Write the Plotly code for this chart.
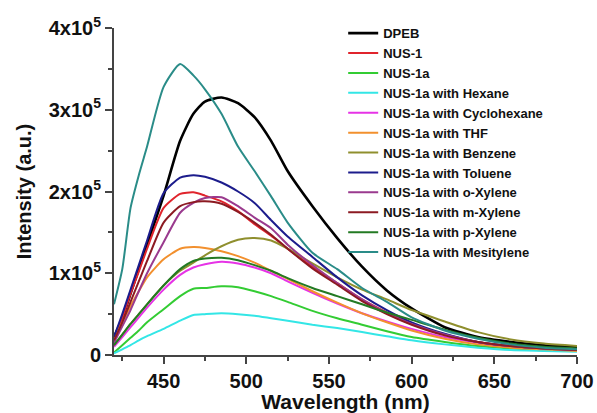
import plotly.graph_objects as go

wavelength = [420, 425, 430, 435, 440, 450, 460, 468, 475, 485, 495, 505, 515, 525,
              540, 555, 570, 585, 600, 620, 640, 660, 680, 700]

# intensities in units of 1e5 (a.u.)
dpeb = [0.22, 0.45, 0.75, 1.05, 1.35, 1.95, 2.62, 2.95, 3.10, 3.15, 3.08, 2.91, 2.62, 2.25,
        1.82, 1.43, 1.08, 0.79, 0.57, 0.34, 0.22, 0.16, 0.12, 0.10]
nus1 = [0.20, 0.45, 0.75, 1.02, 1.30, 1.80, 1.97, 1.99, 1.95, 1.88, 1.76, 1.60, 1.46, 1.30,
        1.08, 0.88, 0.68, 0.52, 0.38, 0.25, 0.16, 0.11, 0.08, 0.06]
nus1a = [0.03, 0.12, 0.21, 0.30, 0.40, 0.56, 0.72, 0.81, 0.82, 0.84, 0.83, 0.78, 0.72, 0.65,
         0.54, 0.45, 0.37, 0.29, 0.22, 0.16, 0.11, 0.08, 0.06, 0.05]
hexane = [0.02, 0.07, 0.12, 0.18, 0.23, 0.32, 0.42, 0.49, 0.50, 0.51, 0.50, 0.48, 0.45, 0.42,
          0.37, 0.33, 0.28, 0.23, 0.18, 0.13, 0.09, 0.06, 0.05, 0.04]
cyclohexane = [0.10, 0.22, 0.34, 0.46, 0.58, 0.80, 0.98, 1.07, 1.11, 1.14, 1.12, 1.07, 1.00, 0.90,
               0.76, 0.63, 0.51, 0.41, 0.32, 0.22, 0.15, 0.10, 0.08, 0.06]
thf = [0.20, 0.40, 0.60, 0.78, 0.95, 1.17, 1.30, 1.32, 1.31, 1.27, 1.21, 1.13, 1.03, 0.93,
       0.78, 0.64, 0.51, 0.40, 0.30, 0.20, 0.13, 0.09, 0.07, 0.05]
benzene = [0.12, 0.25, 0.38, 0.50, 0.62, 0.85, 1.03, 1.13, 1.22, 1.33, 1.41, 1.43, 1.40, 1.30,
           1.12, 0.95, 0.80, 0.68, 0.55, 0.41, 0.28, 0.19, 0.14, 0.11]
toluene = [0.22, 0.50, 0.80, 1.10, 1.40, 1.98, 2.17, 2.20, 2.18, 2.11, 2.00, 1.86, 1.65, 1.45,
           1.20, 0.95, 0.73, 0.55, 0.40, 0.26, 0.16, 0.11, 0.08, 0.06]
o_xylene = [0.15, 0.35, 0.55, 0.78, 1.00, 1.38, 1.74, 1.86, 1.92, 1.93, 1.82, 1.68, 1.55, 1.35,
            1.10, 0.88, 0.68, 0.51, 0.38, 0.25, 0.16, 0.11, 0.08, 0.06]
m_xylene = [0.18, 0.40, 0.65, 0.90, 1.15, 1.62, 1.82, 1.87, 1.88, 1.85, 1.75, 1.62, 1.47, 1.30,
            1.06, 0.86, 0.66, 0.50, 0.37, 0.24, 0.16, 0.11, 0.08, 0.06]
p_xylene = [0.12, 0.25, 0.38, 0.50, 0.62, 0.85, 1.05, 1.15, 1.18, 1.19, 1.16, 1.10, 1.03, 0.94,
            0.82, 0.72, 0.62, 0.52, 0.43, 0.31, 0.21, 0.14, 0.10, 0.08]
mesitylene = [0.62, 1.05, 1.80, 2.20, 2.55, 3.28, 3.56, 3.42, 3.25, 2.95, 2.55, 2.25, 1.94, 1.62,
              1.25, 1.05, 0.82, 0.65, 0.46, 0.30, 0.20, 0.13, 0.09, 0.07]

series_names = ["DPEB", "NUS-1", "NUS-1a", "NUS-1a with Hexane", "NUS-1a with Cyclohexane",
                "NUS-1a with THF", "NUS-1a with Benzene", "NUS-1a with Toluene",
                "NUS-1a with o-Xylene", "NUS-1a with m-Xylene", "NUS-1a with p-Xylene",
                "NUS-1a with Mesitylene"]
series_values = [dpeb, nus1, nus1a, hexane, cyclohexane, thf, benzene, toluene,
                 o_xylene, m_xylene, p_xylene, mesitylene]
colors = ["#000000", "#E0242C", "#33CC33", "#33E6E6", "#E633E6", "#F2902E", "#8F8F2E",
          "#1C1C8C", "#9A3A8E", "#8C1A22", "#237A23", "#2A8C88"]
widths = [2.6, 2, 2, 2, 2, 2, 2, 2, 2, 2, 2, 2]

y_tickvals = [0, 1e5, 2e5, 3e5, 4e5]
y_ticktext = ["0", "1x10<sup>5</sup>", "2x10<sup>5</sup>", "3x10<sup>5</sup>", "4x10<sup>5</sup>"]
x_tickvals = [450, 500, 550, 600, 650, 700]

fig = go.Figure()
for name, vals, col, w in zip(series_names, series_values, colors, widths):
    fig.add_trace(go.Scatter(
        x=wavelength, y=[v * 1e5 for v in vals], mode="lines", name=name,
        line=dict(color=col, width=w, shape="spline", smoothing=0.6)))

axis_font = dict(family="Liberation Sans, Arial, sans-serif", size=20, color="#111111", weight="bold")
xtitle_font = dict(family="Liberation Sans, Arial, sans-serif", size=21, color="#111111", weight="bold")
ytitle_font = dict(family="Liberation Sans, Arial, sans-serif", size=20, color="#111111", weight="bold")

fig.update_layout(
    width=597, height=413,
    margin=dict(l=114, r=20, t=28, b=58),
    plot_bgcolor="white", paper_bgcolor="white",
    showlegend=True,
    legend=dict(x=0.495, y=1.03, xanchor="left", yanchor="top", maxheight=400,
                bgcolor="rgba(0,0,0,0)", borderwidth=0, tracegroupgap=0,
                font=dict(family="Liberation Sans, Arial, sans-serif", size=13,
                          color="#111111", weight="bold")),
    xaxis=dict(range=[420, 700], tickvals=x_tickvals, ticks="outside", ticklen=7,
               tickwidth=2, tickcolor="#444444", showline=True, linecolor="#444444",
               linewidth=2, showgrid=False, zeroline=False, tickfont=axis_font,
               automargin=False,
               title=dict(text="Wavelength (nm)", font=xtitle_font, standoff=2),
               minor=dict(dtick=25, tick0=425, ticks="outside", ticklen=4, tickwidth=2,
                          tickcolor="#444444")),
    yaxis=dict(range=[0, 4e5], tickvals=y_tickvals, ticktext=y_ticktext, ticks="outside",
               ticklen=7, tickwidth=2, tickcolor="#444444", showline=True,
               linecolor="#444444", linewidth=2, showgrid=False, zeroline=False,
               tickfont=axis_font, automargin=False,
               title=dict(text="Intensity (a.u.)", font=ytitle_font, standoff=12),
               minor=dict(dtick=5e4, tick0=0, ticks="outside", ticklen=4, tickwidth=2,
                          tickcolor="#444444")),
)

fig.write_html("out.html")
